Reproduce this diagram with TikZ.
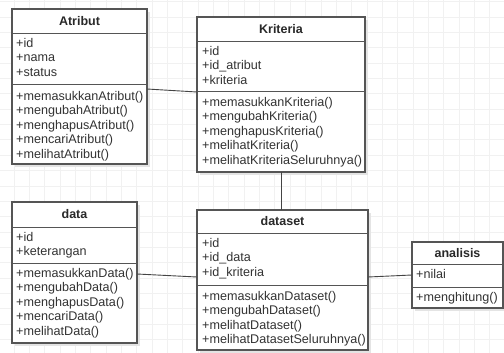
\documentclass[tikz,border=0pt]{standalone}
\usepackage{fontspec}
\setmainfont{Liberation Sans}
\usetikzlibrary{calc}

\definecolor{gridc}{HTML}{F1F1F1}
\definecolor{edgec}{HTML}{555555}
\definecolor{linkc}{HTML}{444444}
\definecolor{textc}{HTML}{333333}
\definecolor{shadowc}{HTML}{E4E4E4}

\tikzset{
  classbox/.style={draw=edgec, line width=1.2pt, fill=white, inner sep=0pt, outer sep=0pt, anchor=north west},
  classshadow/.style={fill=shadowc, draw=none},
  divider/.style={draw=edgec, line width=1pt},
  titletext/.style={font=\fontsize{12.5}{14.5}\selectfont\bfseries, text=textc!80!black, inner sep=0pt},
  membertext/.style={font=\fontsize{12.6}{14.5}\selectfont, text=textc, inner sep=0pt, anchor=base west},
  link/.style={draw=linkc, line width=0.9pt},
}

% class frame: name, x1, y1, x2, y2, first divider, second divider, title
\newcommand\umlbox[8]{%
  \pgfmathsetmacro\boxw{#4-#2}%
  \pgfmathsetmacro\boxh{#5-#3}%
  \fill[classshadow] (#2+3,#3+3) rectangle (#4+3,#5+3);
  \node[classbox, minimum width=\boxw pt, minimum height=\boxh pt] (#1) at (#2,#3) {};
  \draw[divider] (#2,#6) -- (#4,#6);
  \draw[divider] (#2,#7) -- (#4,#7);
  \node[titletext] (#1-title) at ({(#2+#4)/2},{(#3+#6)/2}) {#8};
}

% member lines: name prefix, x, centre of first line, list of lines
\newcommand\umllines[4]{%
  \foreach \txt [count=\k] in {#4} {
    \node[membertext] (#1-\k) at (#2,{#3+(\k-1)*14.5+4.4}) {\txt};
  }
}

\begin{document}
\begin{tikzpicture}[x=1pt,y=-1pt]
  \useasboundingbox (0,0) rectangle (504,353);
  \fill[white] (0,0) rectangle (504,353);

  % background grid
  \foreach \gx in {0,...,33} {
    \draw[gridc, line width=0.8pt] ({13.9+\gx*15.35},0) -- ({13.9+\gx*15.35},353);
  }
  \foreach \gy in {0,...,23} {
    \draw[gridc, line width=0.8pt] (0,{1.7+\gy*15.35}) -- (504,{1.7+\gy*15.35});
  }

  % classes
  \umlbox{atribut}{12}{9}{147}{164}{34}{85}{Atribut}
  \umllines{atribut-a}{16}{43}{+id,+nama,+status}
  \umllines{atribut-m}{16}{96}{+memasukkanAtribut(),+mengubahAtribut(),+menghapusAtribut(),+mencariAtribut(),+melihatAtribut()}

  \umlbox{kriteria}{197}{17}{365}{172}{42}{92}{Kriteria}
  \umllines{kriteria-a}{202}{51}{+id,+id\_atribut,+kriteria}
  \umllines{kriteria-m}{202}{102}{+memasukkanKriteria(),+mengubahKriteria(),+menghapusKriteria(),+melihatKriteria(),+melihatKriteriaSeluruhnya()}

  \umlbox{data}{12}{202}{137}{343}{227}{263}{data}
  \umllines{data-a}{16}{237}{+id,+keterangan}
  \umllines{data-m}{16}{273}{+memasukkanData(),+mengubahData(),+menghapusData(),+mencariData(),+melihatData()}

  \umlbox{dataset}{197}{210}{368}{350}{233}{285}{dataset}
  \umllines{dataset-a}{202}{243}{+id,+id\_data,+id\_kriteria}
  \umllines{dataset-m}{202}{296}{+memasukkanDataset(),+mengubahDataset(),+melihatDataset(),+melihatDatasetSeluruhnya()}

  \umlbox{analisis}{412}{242}{503}{308}{264}{287}{analisis}
  \umllines{analisis-a}{416}{274}{+nilai}
  \umllines{analisis-m}{416}{297}{+menghitung()}

  % associations
  \draw[link] ([yshift=-80pt]atribut.north east) -- ([yshift=-75pt]kriteria.north west);
  \draw[link] (kriteria.south) -- (kriteria.south |- dataset.north);
  \draw[link] ([yshift=-72pt]data.north east) -- ([yshift=-67pt]dataset.north west);
  \draw[link] ([yshift=-67pt]dataset.north east) -- ([yshift=-33pt]analisis.north west);
\end{tikzpicture}
\end{document}
